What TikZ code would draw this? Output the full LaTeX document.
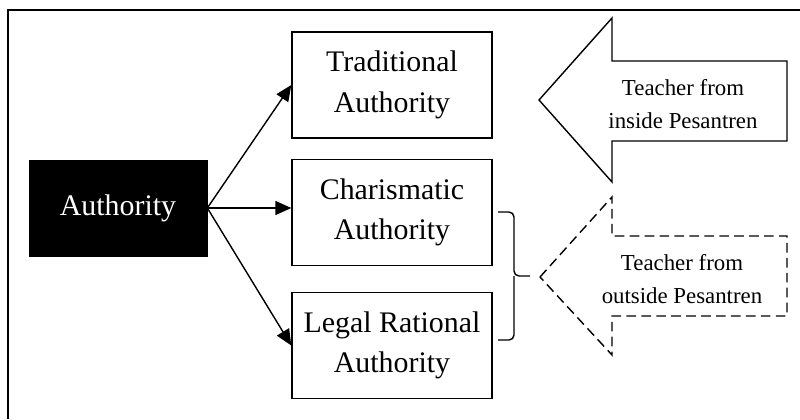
\documentclass[tikz,border=0pt]{standalone}
\usepackage{fontspec}
\setmainfont{Liberation Serif}
\usetikzlibrary{arrows.meta}

\begin{document}
\begin{tikzpicture}[x=0.02cm, y=-0.02cm,
    box/.style={draw, thick, minimum width=4cm, minimum height=2.12cm, align=center, font=\fontsize{17}{23}\selectfont},
    arr/.style={-{Triangle[length=3.2mm, width=2.8mm]}, thick},
    note/.style={align=center, font=\fontsize{13}{19}\selectfont}]
\useasboundingbox (0,0) rectangle (800,419);
% outer frame
\draw[thick] (8,419) |- (800,10);

% source
\node[draw, fill=black, text=white, minimum width=3.56cm, minimum height=1.92cm, font=\fontsize{17}{23}\selectfont] (auth) at (118,208) {Authority};

% types of authority
\node[box] (trad) at (392,85) {Traditional\\Authority};
\node[box] (char) at (392,212.5) {Charismatic\\Authority};
\node[box] (legal) at (392,345.5) {Legal Rational\\Authority};

\draw[arr] (auth.east) -- (trad.west);
\draw[arr] (auth.east) -- (auth.east -| char.west);
\draw[arr] (auth.east) -- (legal.west);

% brace
\coordinate (brtop) at (498,212);
\coordinate (brbot) at (498,340);
\coordinate (brtip) at (530,276);
\draw[thick, rounded corners=0.1cm] (brtop) -| (514,276) -- (brtip);
\draw[thick, rounded corners=0.1cm] (brbot) -| (514,276);

% teachers
\draw[thick] (539,100) -- (612,18) -- (612,61) -- (787,61) -- (787,141) -- (612,141) -- (612,182) -- cycle;
\node[note] (inside) at (683,104) {Teacher from\\inside Pesantren};

\draw[thick, dash pattern=on 5.5pt off 3pt] (540,277) -- (612,197) -- (612,236) -- (787,236) -- (787,316) -- (612,316) -- (612,355) -- cycle;
\node[note] (outside) at (682,279) {Teacher from\\outside Pesantren};
\end{tikzpicture}
\end{document}
